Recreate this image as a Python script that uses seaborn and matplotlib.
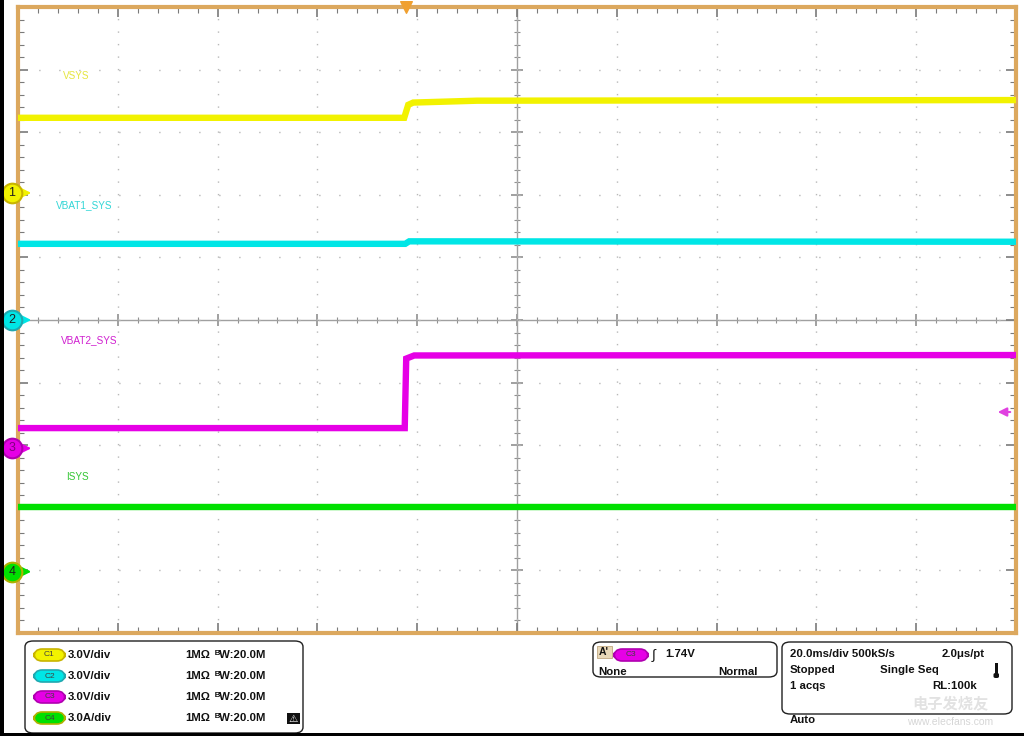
import numpy as np
import pandas as pd
import matplotlib
matplotlib.use('Agg')
import matplotlib.pyplot as plt
import matplotlib.transforms as mtransforms
from matplotlib.patches import FancyBboxPatch, Rectangle
from matplotlib.ticker import MultipleLocator
import seaborn as sns

# ---- scope settings ----
time_per_div = 20.0          # ms/div
n_hdiv, n_vdiv = 10, 10
channels = ['VSYS', 'VBAT1_SYS', 'VBAT2_SYS', 'ISYS']
ch_numbers = ['1', '2', '3', '4']
ch_scale = [3.0, 3.0, 3.0, 3.0]            # V/div (A/div for ch4)
ch_offset = [2.03, 0.0, -2.05, -4.02]      # ground marker position, divisions
ch_colors = ['#F2F200', '#00E6E6', '#E600E6', '#00E000']
label_colors = ['#E6E640', '#33D6D6', '#D020D0', '#33C633']
marker_edge = ['#C8B400', '#20A8B0', '#B000B0', '#B0B000']

# ---- traces (time in ms, value in V / A) ----
vsys_t = [-100, -22.6, -21.8, -20.8, -8.0, 100]
vsys_v = [3.60, 3.60, 4.22, 4.33, 4.42, 4.45]
vbat1_t = [-100, -22.4, -21.6, 100]
vbat1_v = [3.65, 3.65, 3.77, 3.75]
vbat2_t = [-100, -22.5, -22.2, -20.6, 100]
vbat2_v = [0.97, 0.97, 4.30, 4.45, 4.47]
isys_t = [-100, 100]
isys_v = [3.09, 3.09]

label_t = [-91.0, -92.4, -91.4, -90.4]
label_y = [3.90, 1.84, -0.32, -2.50]       # divisions

trigger_time = -22.3
trigger_level = 1.74                        # V on ch3

ch_settings = ['3.0V/div', '3.0V/div', '3.0V/div', '3.0A/div']

W, H = 1024, 736
sns.set_theme(style='white')
plt.rcParams['font.family'] = ['Liberation Sans', 'DejaVu Sans', 'Noto Sans CJK SC']

fig = plt.figure(figsize=(W / 100, H / 100), dpi=100)
fig.patch.set_facecolor('white')


def fx(px):
    return px / W


def fy(py):
    return 1 - py / H


ax_pos = [fx(18), fy(633), fx(1016) - fx(18), fy(7) - fy(633)]
xlim = (-time_per_div * n_hdiv / 2, time_per_div * n_hdiv / 2)
ylim = (-n_vdiv / 2, n_vdiv / 2)

# center cross axes (behind the traces)
axc = fig.add_axes(ax_pos, zorder=0)
axc.set_xlim(*xlim)
axc.set_ylim(*ylim)
axc.patch.set_alpha(0)
for s in ['top', 'right']:
    axc.spines[s].set_visible(False)
axc.spines['left'].set_position(('data', 0))
axc.spines['bottom'].set_position(('data', 0))
for s in ['left', 'bottom']:
    axc.spines[s].set_color('#A0A0A0')
    axc.spines[s].set_linewidth(1.0)
axc.xaxis.set_major_locator(MultipleLocator(time_per_div))
axc.xaxis.set_minor_locator(MultipleLocator(time_per_div / 5))
axc.yaxis.set_major_locator(MultipleLocator(1))
axc.yaxis.set_minor_locator(MultipleLocator(0.2))
axc.tick_params(which='both', direction='inout', color='#909090', labelleft=False,
                labelbottom=False, left=True, bottom=True)
axc.tick_params(which='major', length=9, width=1.2)
axc.tick_params(which='minor', length=5, width=0.8)

# main screen axes
ax = fig.add_axes(ax_pos, zorder=1)
ax.patch.set_alpha(0)

rows = []
for name, ts, vs, k in [('VSYS', vsys_t, vsys_v, 0), ('VBAT1_SYS', vbat1_t, vbat1_v, 1),
                        ('VBAT2_SYS', vbat2_t, vbat2_v, 2), ('ISYS', isys_t, isys_v, 3)]:
    for t, v in zip(ts, vs):
        rows.append({'channel': name, 't': t, 'div': v / ch_scale[k] + ch_offset[k]})
df = pd.DataFrame(rows)

sns.lineplot(data=df, x='t', y='div', hue='channel', hue_order=channels,
             palette=dict(zip(channels, ch_colors)), estimator=None, sort=False,
             linewidth=4.6, legend=False, ax=ax, zorder=3)
for line in ax.get_lines():
    line.set_solid_joinstyle('miter')
    line.set_solid_capstyle('butt')

ax.set_xlim(*xlim)
ax.set_ylim(*ylim)
ax.set_xlabel('')
ax.set_ylabel('')
ax.xaxis.set_major_locator(MultipleLocator(time_per_div))
ax.xaxis.set_minor_locator(MultipleLocator(time_per_div / 5))
ax.yaxis.set_major_locator(MultipleLocator(1))
ax.yaxis.set_minor_locator(MultipleLocator(0.2))
ax.tick_params(which='both', direction='in', top=True, right=True, left=True, bottom=True,
               labelleft=False, labelbottom=False, color='#7A7A7A')
ax.tick_params(which='major', length=7, width=1.2)
ax.tick_params(which='minor', length=4.5, width=0.8)
for s in ax.spines.values():
    s.set_color('#DCA85E')
    s.set_linewidth(3.0)

ax.xaxis.grid(True, which='major', color='#B8B8B8', linewidth=1.0, linestyle=(8.5, (1, 8)))
ax.yaxis.grid(True, which='major', color='#B8B8B8', linewidth=1.0, linestyle=(13.9, (1, 13.4)))

# trace labels
for name, t, y, c in zip(channels, label_t, label_y, label_colors):
    ax.text(t, y, name, color=c, fontsize=7.2, ha='left', va='center', zorder=4)

# channel ground markers left of the screen
tr_left = mtransforms.blended_transform_factory(fig.transFigure, ax.transData)
for num, off, c, ec in zip(ch_numbers, ch_offset, ch_colors, marker_edge):
    ax.annotate('', xy=(fx(34), off), xycoords=tr_left, xytext=(fx(19), off),
                textcoords=tr_left,
                arrowprops=dict(arrowstyle='-|>', color=c, lw=1.5, mutation_scale=13),
                annotation_clip=False, zorder=5)
    ax.scatter([fx(12)], [off], s=200, color=c, edgecolor=ec, linewidth=1.5,
               transform=tr_left, clip_on=False, zorder=6)
    ax.text(fx(12), off, num, transform=tr_left, ha='center', va='center',
            fontsize=9, color='#202020' if num != '3' else '#800080', zorder=7)

# trigger position marker (top) and trigger level marker (right)
tr_top = mtransforms.blended_transform_factory(ax.transData, fig.transFigure)
ax.scatter([trigger_time], [fy(7)], marker='v', s=70, color='#F0A030',
           transform=tr_top, clip_on=False, zorder=8)
trig_div = trigger_level / ch_scale[2] + ch_offset[2]
tr_right = mtransforms.blended_transform_factory(fig.transFigure, ax.transData)
ax.annotate('', xy=(fx(995), trig_div), xycoords=tr_right, xytext=(fx(1013), trig_div),
            textcoords=tr_right,
            arrowprops=dict(arrowstyle='-|>', color='#E040E0', lw=1.5, mutation_scale=13),
            annotation_clip=False, zorder=8)

# ---- readout area ----
def box(x0, y0, x1, y1):
    fig.patches.append(FancyBboxPatch((fx(x0), fy(y1)), fx(x1) - fx(x0), fy(y0) - fy(y1),
                                      boxstyle='round,pad=0,rounding_size=0.008',
                                      transform=fig.transFigure, facecolor='white',
                                      edgecolor='#202020', linewidth=1.0))


def pill(x0, yc, text, color, edge, w=31, h=12):
    fig.patches.append(FancyBboxPatch((fx(x0), fy(yc + h / 2)), fx(w), h / H,
                                      boxstyle='round,pad=0,rounding_size=0.008',
                                      mutation_aspect=W / H,
                                      transform=fig.transFigure, facecolor=color,
                                      edgecolor=edge, linewidth=1.2))
    fig.text(fx(x0 + w / 2), fy(yc), text, fontsize=6, color='#404040',
             ha='center', va='center')


def label(x, y, s, ha='left', size=8.2, color='#111111', weight='bold', **kw):
    fig.text(fx(x), fy(y), s, fontsize=size, color=color, fontweight=weight,
             ha=ha, va='center', **kw)


box(25, 641, 303, 733)
row_y = [655, 676, 697, 718]
for k in range(4):
    pill(34, row_y[k], 'C' + ch_numbers[k], ch_colors[k], marker_edge[k])
    label(68, row_y[k], ch_settings[k])
    label(185, row_y[k], '1MΩ')
    label(215, row_y[k], '\u1D2EW:20.0M')
fig.patches.append(Rectangle((fx(287), fy(724)), fx(13), 11 / H, transform=fig.transFigure,
                             facecolor='#111111', edgecolor='none'))
label(293.5, 719, '⚠', ha='center', size=7.5, color='white', weight='normal')

box(593, 642, 777, 677)
fig.patches.append(Rectangle((fx(597), fy(658)), fx(15), 12 / H, transform=fig.transFigure,
                             facecolor='#E8D8B8', edgecolor='#C0A880', linewidth=0.6))
label(599, 652, "A'", size=7.5)
pill(614, 655, 'C3', ch_colors[2], marker_edge[2], w=34, h=12)
label(652, 654, '∫', size=10, weight='normal')
label(665, 654, '%.2fV' % trigger_level)
label(598, 672, 'None')
label(758, 672, 'Normal', ha='right')

box(782, 642, 1012, 714)
label(790, 654, '%.1fms/div 500kS/s' % time_per_div)
label(985, 654, '2.0μs/pt', ha='right')
label(790, 670, 'Stopped')
label(880, 670, 'Single Seq')
label(790, 686, '1 acqs')
label(977, 686, 'RL:100k', ha='right')
label(790, 720, 'Auto')
fig.patches.append(Rectangle((fx(995), fy(675)), fx(2.5), 12 / H, transform=fig.transFigure,
                             facecolor='#111111', edgecolor='none'))
fig.patches.append(FancyBboxPatch((fx(993.5), fy(678)), fx(5.5), 5 / H, transform=fig.transFigure,
                                  boxstyle='round,pad=0,rounding_size=0.002',
                                  facecolor='#111111', edgecolor='none'))

# watermark
fig.text(fx(950), fy(703), '电子发烧友', fontsize=11, color='#E2E2E2', ha='center', va='center',
         fontweight='bold', family=['Noto Sans CJK SC', 'DejaVu Sans'])
fig.text(fx(950), fy(722), 'www.elecfans.com', fontsize=7.5, color='#D6D6D6', ha='center',
         va='center')

# black image edges
fig.patches.append(Rectangle((0, 0), fx(4), 1, transform=fig.transFigure,
                             facecolor='black', edgecolor='none'))
fig.patches.append(Rectangle((0, 0), 1, 3 / H, transform=fig.transFigure,
                             facecolor='black', edgecolor='none'))

fig.savefig('out.png', dpi=100)
